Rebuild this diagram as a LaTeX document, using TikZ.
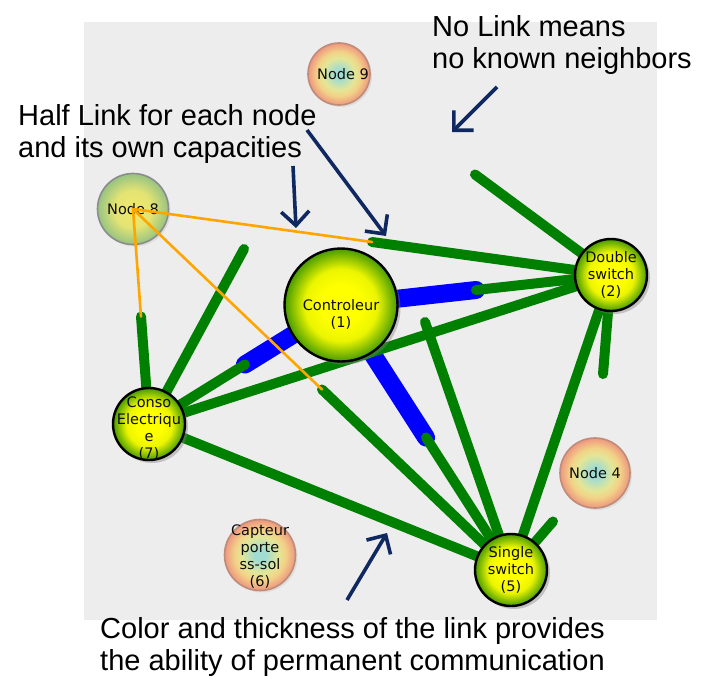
\documentclass[tikz,border=0pt]{standalone}
\usepackage{fontspec}
\setmainfont{Liberation Sans}
\newfontfamily\nodefont{DejaVu Sans}
\usetikzlibrary{calc,shadows,arrows.meta}

\definecolor{bggray}{RGB}{237,237,237}
\definecolor{linkgreen}{RGB}{0,128,0}
\definecolor{linkblue}{RGB}{0,0,255}
\definecolor{linkorange}{RGB}{255,165,0}
\definecolor{arrownavy}{RGB}{16,40,96}
\definecolor{activein}{RGB}{255,255,0}
\definecolor{activemid}{RGB}{235,245,0}
\definecolor{activeout}{RGB}{70,155,0}
\definecolor{idlein}{RGB}{160,220,210}
\definecolor{idlemid}{RGB}{228,230,150}
\definecolor{idlemid2}{RGB}{242,210,135}
\definecolor{idleout}{RGB}{238,150,128}
\definecolor{idleedge}{RGB}{190,140,120}
\definecolor{ghostin}{RGB}{240,232,110}
\definecolor{ghostmid}{RGB}{228,228,115}
\definecolor{ghostout}{RGB}{150,195,130}
\definecolor{ghostedge}{RGB}{140,140,140}

\pgfdeclareradialshading{activenode}{\pgfpoint{0bp}{0bp}}{color(0bp)=(activein); color(9bp)=(activein); color(16bp)=(activemid); color(25bp)=(activeout); color(50bp)=(activeout)}
\pgfdeclareradialshading{idlenode}{\pgfpoint{0bp}{0bp}}{color(0bp)=(idlein); color(4bp)=(idlein); color(13bp)=(idlemid); color(18bp)=(idlemid2); color(25bp)=(idleout); color(50bp)=(idleout)}
\pgfdeclareradialshading{ghostnode}{\pgfpoint{0bp}{0bp}}{color(0bp)=(ghostin); color(13bp)=(ghostmid); color(25bp)=(ghostout); color(50bp)=(ghostout)}

\pgfdeclarelayer{bg}
\pgfdeclarelayer{links}
\pgfsetlayers{bg,links,main}

\begin{document}
\begin{tikzpicture}[x=1pt,y=-1pt,
	active/.style={circle, inner sep=0pt, shade, shading=activenode, draw=black, line width=2.4pt,
		drop shadow={shadow xshift=3pt,shadow yshift=-3pt,opacity=0.4}},
	idle/.style={circle, inner sep=0pt, shade, shading=idlenode, draw=idleedge, line width=1.6pt,
		drop shadow={shadow xshift=2pt,shadow yshift=-2pt,opacity=0.15}},
	ghost/.style={circle, inner sep=0pt, shade, shading=ghostnode, draw=ghostedge, line width=1.6pt,
		drop shadow={shadow xshift=2pt,shadow yshift=-2pt,opacity=0.15}},
	nodetext/.style={font=\nodefont\fontsize{14.5}{17}\selectfont, text=black!95, align=center, inner sep=0pt},
	greenhalf/.style={draw=linkgreen, line width=10pt, line cap=round},
	bluehalf/.style={draw=linkblue, line width=18pt, line cap=round},
	orangehalf/.style={draw=linkorange, line width=2.6pt, line cap=round},
	note/.style={font=\fontsize{29}{32}\selectfont, align=left, inner sep=0pt, anchor=north west},
	pointer/.style={draw=arrownavy, line width=3.6pt, -{Straight Barb[length=14pt,width=28pt]}}
	]
	%%%%% START %%%%%
	\useasboundingbox (0,0) rectangle (720,696);
	
	\begin{pgfonlayer}{bg}
		\fill[bggray] (84,22) rectangle (657,620);
	\end{pgfonlayer}
	
	% network nodes
	\node[active, minimum size=113pt] (ctrl) at (341,305) {};
	\node[active, minimum size=72pt] (dbl) at (611,275) {};
	\node[active, minimum size=72pt] (cons) at (149,424) {};
	\node[active, minimum size=72pt] (sgl) at (511,570) {};
	\node[ghost, minimum size=71pt] (n8) at (133,209) {};
	\node[idle, minimum size=62pt] (n9) at (339,74) {};
	\node[idle, minimum size=70pt] (n4) at (595,473) {};
	\node[idle, minimum size=71pt] (capt) at (260,555) {};
	
	\node[nodetext] (ctrl-txt) at ($(ctrl)+(0,9)$) {Controleur\\(1)};
	\node[nodetext] (dbl-txt) at (dbl) {Double\\switch\\(2)};
	\node[nodetext] (cons-txt) at ($(cons)+(0,5)$) {Conso\\Electriqu\\e\\(7)};
	\node[nodetext] (sgl-txt) at (sgl) {Single\\switch\\(5)};
	\node[nodetext] (n8-txt) at (n8) {Node 8};
	\node[nodetext] (n9-txt) at ($(n9)+(4,0)$) {Node 9};
	\node[nodetext] (n4-txt) at (n4) {Node 4};
	\node[nodetext] (capt-txt) at ($(capt)+(0,2)$) {Capteur\\porte\\ss-sol\\(6)};
	
	% half links, each node draws its own half
	\begin{pgfonlayer}{links}
		\draw[bluehalf] (ctrl.center) -- ($(ctrl)!0.5!(dbl)$);
		\draw[bluehalf] (ctrl.center) -- ($(ctrl)!0.5!(cons)$);
		\draw[bluehalf] (ctrl.center) -- ($(ctrl)!0.5!(sgl)$);
		
		\draw[greenhalf] (cons.center) -- ($(cons)!0.5!(ctrl)$);
		\draw[greenhalf] (cons.center) -- ($(cons)!0.5!(dbl)$);
		\draw[greenhalf] (cons.center) -- ($(cons)!0.5!(sgl)$);
		\draw[greenhalf] (cons.center) -- ($(cons)!0.5!(n8)$);
		\draw[greenhalf] (cons.center) -- ($(cons)!0.5!(n9)$);
		
		\draw[greenhalf] (dbl.center) -- ($(dbl)!0.5!(ctrl)$);
		\draw[greenhalf] (dbl.center) -- ($(dbl)!0.5!(cons)$);
		\draw[greenhalf] (dbl.center) -- ($(dbl)!0.5!(sgl)$);
		\draw[greenhalf] (dbl.center) -- ($(dbl)!0.5!(n8)$);
		\draw[greenhalf] (dbl.center) -- ($(dbl)!0.5!(n9)$);
		\draw[greenhalf] (dbl.center) -- ($(dbl)!0.5!(n4)$);
		
		\draw[greenhalf] (sgl.center) -- ($(sgl)!0.5!(ctrl)$);
		\draw[greenhalf] (sgl.center) -- ($(sgl)!0.5!(cons)$);
		\draw[greenhalf] (sgl.center) -- ($(sgl)!0.5!(dbl)$);
		\draw[greenhalf] (sgl.center) -- ($(sgl)!0.5!(n8)$);
		\draw[greenhalf] (sgl.center) -- ($(sgl)!0.5!(n9)$);
		\draw[greenhalf] (sgl.center) -- ($(sgl)!0.5!(n4)$);
	\end{pgfonlayer}
	
	\draw[orangehalf] (n8.center) -- ($(n8)!0.5!(cons)$);
	\draw[orangehalf] (n8.center) -- ($(n8)!0.5!(dbl)$);
	\draw[orangehalf] (n8.center) -- ($(n8)!0.5!(sgl)$);
	
	% notes
	\node[note] (nolink) at (432,15) {No Link means\\no known neighbors};
	\node[note] (halflink) at (18,104) {Half Link for each node\\and its own capacities};
	\node[note] (colorlink) at (100,617) {Color and thickness of the link provides\\the ability of permanent communication};
	
	\coordinate (nolink-from) at (497,87);
	\coordinate (nolink-to) at (452,132);
	\coordinate (half-from) at (307,130);
	\coordinate (half-to) at (386,236);
	\coordinate (own-from) at (293,166);
	\coordinate (own-to) at (296,228);
	\coordinate (color-from) at (347,600);
	\coordinate (color-to) at (387,533);
	
	\draw[pointer] (nolink-from) -- (nolink-to);
	\draw[pointer] (half-from) -- (half-to);
	\draw[pointer] (own-from) -- (own-to);
	\draw[pointer] (color-from) -- (color-to);
	
	%%%%% END %%%%%
\end{tikzpicture}
\end{document}
